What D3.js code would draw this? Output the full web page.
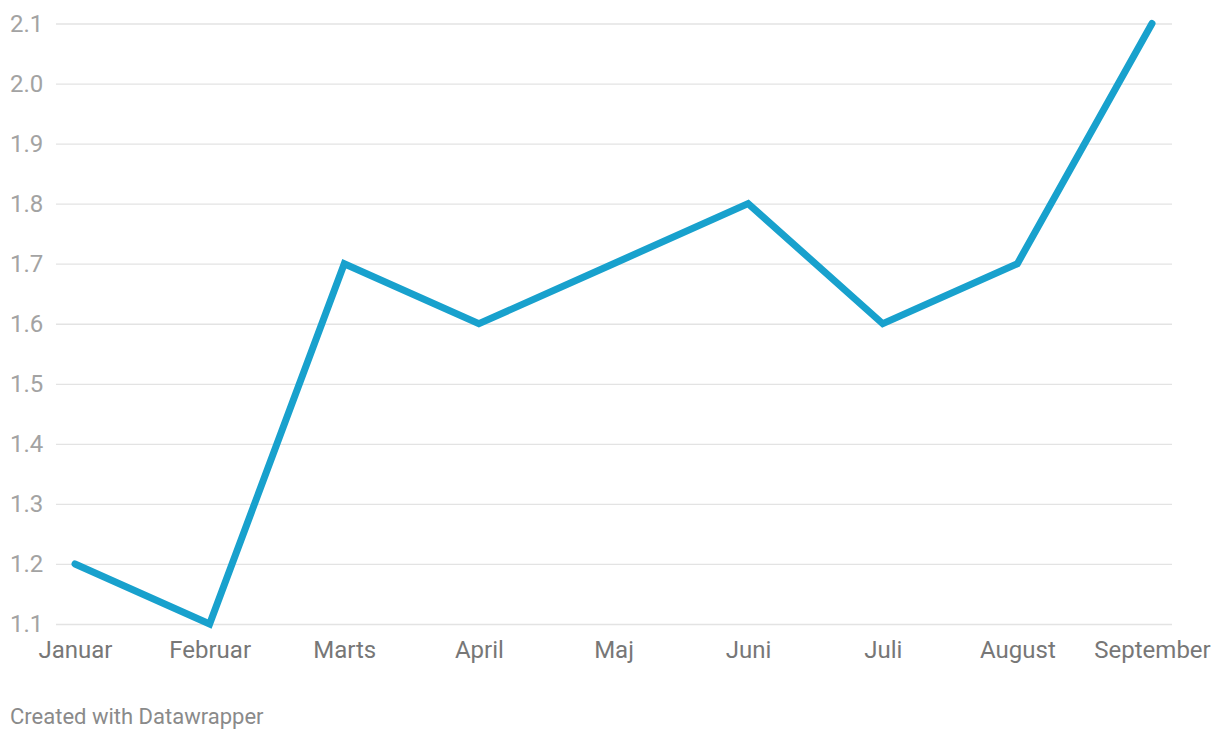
<!doctype html>
<html>
<head>
<meta charset="utf-8">
<title>Line chart</title>
<script src="https://cdn.jsdelivr.net/npm/d3@7"></script>
<style>
    body { margin: 0; background: #fff; font-family: Roboto, sans-serif; }
    svg text { font-family: Roboto, sans-serif; }
</style>
</head>
<body>
<svg width="1220" height="740"></svg>
<script>
    // chart data
    const months = ["Januar", "Februar", "Marts", "April", "Maj", "Juni", "Juli", "August", "September"];
    const values = [1.2, 1.1, 1.7, 1.6, 1.7, 1.8, 1.6, 1.7, 2.1];
    const yTicks = [1.1, 1.2, 1.3, 1.4, 1.5, 1.6, 1.7, 1.8, 1.9, 2.0, 2.1];

    let svg = d3.select("svg");

    let x = d3.scalePoint()
        .domain(months)
        .range([75, 1152]);

    let y = d3.scaleLinear()
        .domain([1.1, 2.1])
        .range([624, 23.5]);

    // grid + y labels
    let yAxis = d3.axisLeft(y)
        .tickValues(yTicks)
        .tickFormat(d3.format(".1f"))
        .tickSize(-1116)
        .tickPadding(14);

    let grid = svg.append("g")
        .attr("transform", "translate(56,0)")
        .call(yAxis);
    grid.select(".domain").remove();
    grid.selectAll(".tick line")
        .attr("stroke", "#e3e3e3")
        .attr("stroke-width", 1.3);
    grid.selectAll(".tick text")
        .attr("fill", "#a3a3a3")
        .attr("font-size", 24)
        .attr("text-anchor", "start")
        .attr("x", -46);

    // x labels
    let xAxis = svg.append("g")
        .attr("transform", "translate(0,624)")
        .call(d3.axisBottom(x).tickSize(0).tickPadding(17));
    xAxis.select(".domain").remove();
    xAxis.selectAll(".tick text")
        .attr("fill", "#777")
        .attr("font-size", 24);

    // the line
    let line = d3.line()
        .x((d, i) => x(months[i]))
        .y(d => y(d));

    svg.append("path")
        .datum(values)
        .attr("d", line)
        .attr("fill", "none")
        .attr("stroke", "#18a1cd")
        .attr("stroke-width", 7)
        .attr("stroke-linecap", "round")
        .attr("stroke-linejoin", "miter");

    svg.append("text")
        .attr("x", 10)
        .attr("y", 724)
        .attr("fill", "#8a8a8a")
        .attr("font-size", 22)
        .text("Created with Datawrapper");
</script>
</body>
</html>
